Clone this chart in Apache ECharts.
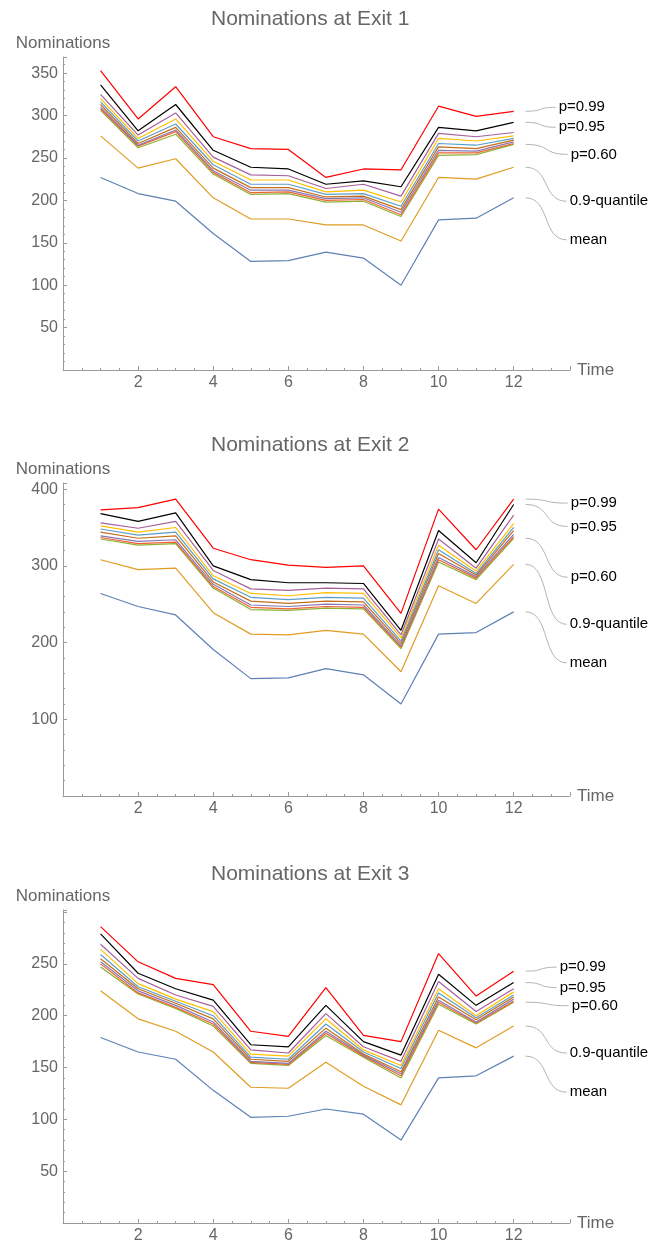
<!DOCTYPE html>
<html><head><meta charset="utf-8">
<script src="https://cdn.jsdelivr.net/npm/echarts@6/dist/echarts.min.js"></script>
<style>html,body{margin:0;padding:0;background:#fff}#c{width:653px;height:1249px}</style>
</head><body><div id="c"></div>
<script>
// ---------- data ----------
const times = [1, 2, 3, 4, 5, 6, 7, 8, 9, 10, 11, 12];
const seriesNames = ['mean', '0.9-quantile', 'p=0.60', 'p=0.65', 'p=0.70', 'p=0.75', 'p=0.80', 'p=0.85', 'p=0.90', 'p=0.95', 'p=0.99'];
const chartTitles = ['Nominations at Exit 1', 'Nominations at Exit 2', 'Nominations at Exit 3'];
const yTickValues1 = [50, 100, 150, 200, 250, 300, 350];
const yTickValues2 = [100, 200, 300, 400];
const yTickValues3 = [50, 100, 150, 200, 250];
const xTickValues = [2, 4, 6, 8, 10, 12];

// Exit 1
const e1Mean = [227, 208, 199, 161, 128, 129, 139, 132, 100, 177, 179, 203];
const e1Q90  = [276, 238, 249, 203, 178, 178, 171, 171, 152, 227, 225, 239];
const e1P60  = [306, 262, 278, 231, 207, 208, 198, 199, 181, 253, 254, 266];
const e1P65  = [308, 264, 281, 233, 209, 210, 200, 201, 183, 256, 256, 267];
const e1P70  = [310, 265, 283, 235, 212, 212, 202, 203, 186, 259, 258, 269];
const e1P75  = [313, 267, 286, 238, 215, 215, 204, 205, 189, 263, 261, 271];
const e1P80  = [316, 270, 290, 242, 219, 219, 207, 208, 193, 267, 265, 273];
const e1P85  = [320, 273, 296, 246, 224, 224, 210, 212, 198, 273, 270, 276];
const e1P90  = [325, 277, 303, 251, 230, 229, 214, 219, 205, 279, 275, 280];
const e1P95  = [336, 282, 313, 259, 239, 237, 219, 223, 216, 286, 282, 292];
const e1P99  = [353, 296, 334, 275, 261, 260, 227, 237, 236, 311, 299, 305];

// Exit 2
const e2Mean = [264, 247, 236, 191, 153, 154, 166, 158, 120, 211, 213, 240];
const e2Q90  = [308, 295, 297, 239, 211, 210, 216, 211, 162, 274, 251, 302];
const e2P60  = [335, 327, 329, 271, 243, 242, 245, 244, 192, 305, 282, 336];
const e2P65  = [337, 329, 331, 273, 246, 244, 247, 246, 194, 308, 284, 338];
const e2P70  = [339, 332, 334, 276, 249, 247, 250, 249, 196, 311, 286, 341];
const e2P75  = [344, 336, 339, 279, 254, 251, 254, 253, 199, 316, 288, 346];
const e2P80  = [348, 340, 344, 283, 259, 256, 259, 258, 202, 321, 290, 350];
const e2P85  = [352, 344, 350, 287, 264, 261, 265, 264, 206, 327, 293, 355];
const e2P90  = [356, 349, 358, 294, 270, 268, 271, 270, 210, 335, 297, 366];
const e2P95  = [368, 358, 369, 300, 282, 278, 278, 277, 216, 346, 304, 380];
const e2P99  = [373, 376, 387, 323, 308, 301, 298, 300, 238, 374, 321, 387];

// Exit 3
const e3Mean = [179, 165, 158, 128, 102, 103, 110, 105, 80, 140, 142, 161];
const e3Q90  = [224, 197, 185, 165, 131, 130, 155, 132, 114, 186, 169, 190];
const e3P60  = [247, 221, 207, 190, 154, 152, 181, 160, 140, 211, 192, 213];
const e3P65  = [250, 222, 208, 192, 155, 153, 183, 161, 142, 213, 193, 214];
const e3P70  = [252, 224, 210, 194, 156, 154, 185, 162, 144, 215, 194, 216];
const e3P75  = [255, 226, 212, 197, 158, 156, 188, 163, 146, 218, 196, 218];
const e3P80  = [259, 228, 214, 200, 160, 158, 192, 165, 149, 222, 198, 220];
const e3P85  = [264, 231, 216, 204, 163, 161, 197, 167, 152, 226, 200, 223];
const e3P90  = [269, 236, 220, 209, 167, 164, 202, 170, 156, 233, 204, 226];
const e3P95  = [279, 241, 226, 215, 172, 170, 210, 175, 162, 240, 210, 232];
const e3P99  = [286, 252, 236, 230, 185, 180, 227, 181, 175, 260, 219, 243];

// ---------- styling / layout ----------
const exits = [
  [e1Mean, e1Q90, e1P60, e1P65, e1P70, e1P75, e1P80, e1P85, e1P90, e1P95, e1P99],
  [e2Mean, e2Q90, e2P60, e2P65, e2P70, e2P75, e2P80, e2P85, e2P90, e2P95, e2P99],
  [e3Mean, e3Q90, e3P60, e3P65, e3P70, e3P75, e3P80, e3P85, e3P90, e3P95, e3P99]
];
const yTicks = [yTickValues1, yTickValues2, yTickValues3];
const colors = ['#5E81B5', '#E19C24', '#8FB032', '#EB6235', '#8778B3', '#C56E1A', '#5D9EC7', '#FFBF00', '#A5609D', '#000000', '#FF0000'];
const gridTops = [57, 483, 910];
const gridHeight = 313;
const yMaxes = [369, 408, 302];
const yIntervals = [50, 100, 50];
const titleTops = [9, 435, 864];
const FONT = 'Liberation Sans, Arial, sans-serif';
const axisColor = '#9a9a9a';
const textColor = '#666666';

// callouts: series index, dy of label relative to line end, dx of label
const callouts = [
  [[10, -4, 45], [9, 5, 45], [2, 10, 57], [1, 34, 56], [0, 42, 56]],
  [[10, 4, 57], [9, 22, 57], [2, 39, 57], [1, 60, 56], [0, 51, 56]],
  [[10, -4, 46], [9, 5, 46], [2, 3.5, 58], [1, 27, 56], [0, 36, 56]]
];

const chart = echarts.init(document.getElementById('c'));
const grid = [], xAxis = [], yAxis = [], series = [], title = [];
for (let i = 0; i < 3; i++) {
  grid.push({left: 63, width: 507, top: gridTops[i], height: gridHeight});
  title.push({text: chartTitles[i], left: 211, top: titleTops[i], padding: 0,
    textStyle: {fontSize: 21, fontWeight: 'normal', color: textColor, fontFamily: FONT}});
  xAxis.push({
    gridIndex: i, type: 'value', min: 0, max: 13.5, interval: 2,
    name: 'Time', nameLocation: 'end', nameGap: 7,
    nameTextStyle: {fontSize: 17, color: textColor, fontFamily: FONT},
    axisLine: {lineStyle: {color: axisColor, width: 1}},
    axisTick: {inside: true, length: 4, lineStyle: {color: axisColor}},
    minorTick: {show: true, splitNumber: 4, length: 2, lineStyle: {color: axisColor}},
    splitLine: {show: false},
    axisLabel: {fontSize: 16, color: textColor, fontFamily: FONT, margin: 5,
      formatter: v => xTickValues.includes(v) ? String(v) : ''}
  });
  yAxis.push({
    gridIndex: i, type: 'value', min: 0, max: yMaxes[i], interval: yIntervals[i],
    name: 'Nominations', nameLocation: 'end', nameGap: 5,
    nameTextStyle: {fontSize: 17, color: textColor, fontFamily: FONT},
    axisLine: {show: true, lineStyle: {color: axisColor, width: 1}},
    axisTick: {show: true, inside: true, length: 4, lineStyle: {color: axisColor}},
    minorTick: {show: true, splitNumber: 5, length: 2, lineStyle: {color: axisColor}},
    splitLine: {show: false},
    axisLabel: {fontSize: 16, color: textColor, fontFamily: FONT, margin: 5,
      formatter: v => yTicks[i].includes(v) ? String(v) : ''}
  });
  exits[i].forEach((vals, s) => {
    series.push({
      name: seriesNames[s] + ' ' + (i + 1), type: 'line', xAxisIndex: i, yAxisIndex: i,
      data: times.map((t, k) => [t, vals[k]]),
      symbol: 'none', showSymbol: false, silent: true, animation: false,
      lineStyle: {width: 1.2, color: colors[s]}, itemStyle: {color: colors[s]}
    });
  });
}
chart.setOption({animation: false, backgroundColor: '#fff', title, grid, xAxis, yAxis, series});

// callout labels with leader lines, anchored at line ends via the axes
const graphic = [];
for (let i = 0; i < 3; i++) {
  callouts[i].forEach(([s, dy, dx]) => {
    const last = times.length - 1;
    const p = chart.convertToPixel({gridIndex: i}, [times[last], exits[i][s][last]]);
    const x1 = p[0] + 12, y1 = p[1];
    const lx = p[0] + dx, ly = p[1] + dy;
    const x2 = lx - 3, y2 = ly;
    const w = x2 - x1;
    graphic.push({type: 'bezierCurve', silent: true,
      shape: {x1, y1, x2, y2, cpx1: x1 + w * 0.6, cpy1: y1, cpx2: x1 + w * 0.4, cpy2: y2},
      style: {stroke: '#b4b4b4', lineWidth: 1, fill: null}});
    graphic.push({type: 'text', silent: true, x: lx, y: ly,
      style: {text: seriesNames[s], fill: '#000', fontSize: 15, fontFamily: FONT, verticalAlign: 'middle', align: 'left'}});
  });
}
chart.setOption({graphic});
</script>
</body></html>
